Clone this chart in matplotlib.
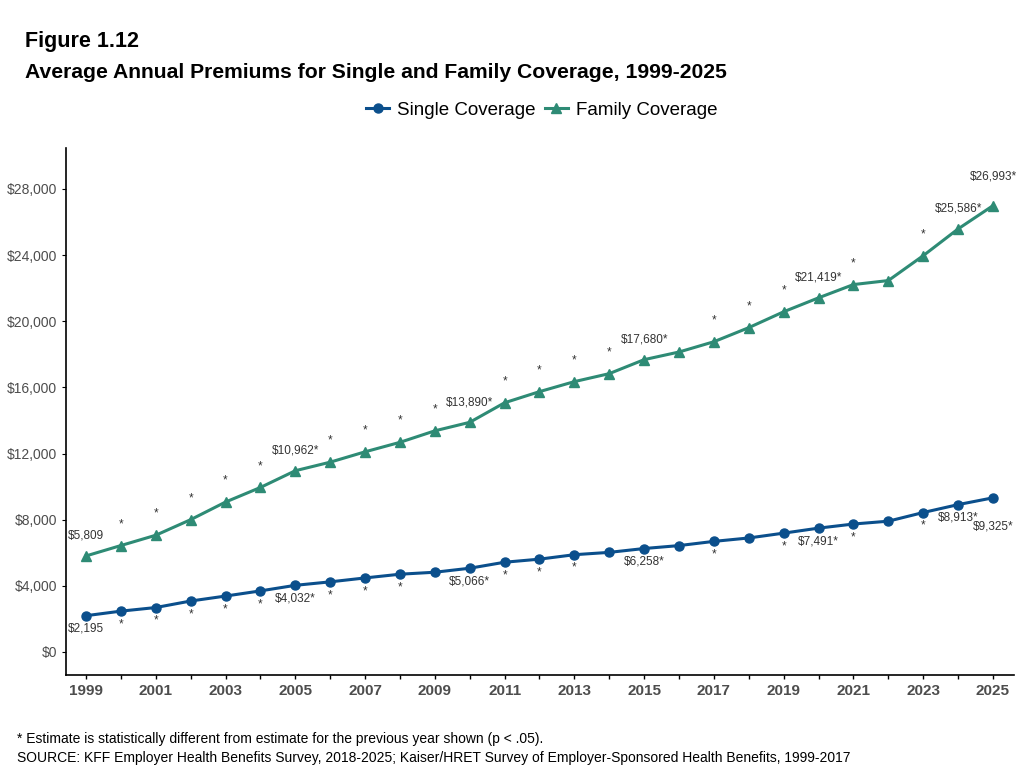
import matplotlib
matplotlib.use('Agg')
import matplotlib.pyplot as plt
from matplotlib.ticker import FuncFormatter, MultipleLocator

plt.rcParams['font.family'] = ['Liberation Sans', 'DejaVu Sans']

years = list(range(1999, 2026))
single = [2195, 2471, 2689, 3083, 3383, 3695, 4032, 4242, 4479, 4704, 4824,
          5066, 5429, 5615, 5884, 6025, 6258, 6435, 6690, 6896, 7188, 7491,
          7739, 7911, 8435, 8913, 9325]
family = [5809, 6438, 7061, 8003, 9068, 9950, 10962, 11480, 12106, 12680, 13375,
          13890, 15073, 15745, 16351, 16834, 17680, 18142, 18764, 19616, 20576, 21419,
          22221, 22463, 23968, 25586, 26993]

# years that get a value label, and years that get only an asterisk
single_labels = {1999: '$2,195', 2005: '$4,032*', 2010: '$5,066*', 2015: '$6,258*',
                 2020: '$7,491*', 2024: '$8,913*', 2025: '$9,325*'}
family_labels = {1999: '$5,809', 2005: '$10,962*', 2010: '$13,890*', 2015: '$17,680*',
                 2020: '$21,419*', 2024: '$25,586*', 2025: '$26,993*'}
single_stars = [2000, 2001, 2002, 2003, 2004, 2006, 2007, 2008, 2011, 2012, 2013,
                2017, 2019, 2021, 2023]
family_stars = [2000, 2001, 2002, 2003, 2004, 2006, 2007, 2008, 2009, 2011, 2012,
                2013, 2014, 2017, 2018, 2019, 2021, 2023]

BLUE = '#0B4F8C'
TEAL = '#2E8B75'
GREY = '#4D4D4D'

fig = plt.figure(figsize=(10.23, 7.70), dpi=100)
ax = fig.add_axes([66/1023, 1 - 675/770, (1014 - 66)/1023, (675 - 148)/770])

ax.plot(years, single, color=BLUE, lw=2.2, marker='o', ms=6.5, label='Single Coverage')
ax.plot(years, family, color=TEAL, lw=2.2, marker='^', ms=7, label='Family Coverage')

lab_kw = dict(textcoords='offset points', ha='center', va='center', fontsize=8.5, color='#333333')
for yr, txt in single_labels.items():
    v = single[years.index(yr)]
    dy = -21 if yr == 2025 else -9.5
    ax.annotate(txt, (yr, v), xytext=(0, dy), **lab_kw)
for yr, txt in family_labels.items():
    v = family[years.index(yr)]
    dy = 21 if yr == 2025 else 14.5
    ax.annotate(txt, (yr, v), xytext=(0, dy), **lab_kw)
for yr in single_stars:
    ax.annotate('*', (yr, single[years.index(yr)]), xytext=(0, -9.5), **lab_kw)
for yr in family_stars:
    ax.annotate('*', (yr, family[years.index(yr)]), xytext=(0, 15.5), **lab_kw)

ax.set_xlim(1998.427, 2025.602)
ax.set_ylim(-1391, 30479)
ax.set_xticks(range(1999, 2026, 2))
ax.xaxis.set_minor_locator(MultipleLocator(1))
ax.set_yticks(range(0, 28001, 4000))
ax.yaxis.set_major_formatter(FuncFormatter(lambda v, p: '${:,.0f}'.format(v)))

for s in ['top', 'right']:
    ax.spines[s].set_visible(False)
for s in ['left', 'bottom']:
    ax.spines[s].set_linewidth(1.2)
ax.tick_params(axis='y', labelsize=10, colors='black', labelcolor=GREY, length=3)
ax.tick_params(axis='x', which='both', length=3, width=1, labelsize=11, labelcolor=GREY)
for t in ax.get_xticklabels():
    t.set_fontweight('bold')

fig.text(25/1023, 1 - 42/770, 'Figure 1.12', fontsize=15.5, fontweight='bold', va='center')
fig.text(25/1023, 1 - 73/770, 'Average Annual Premiums for Single and Family Coverage, 1999-2025',
         fontsize=15.2, fontweight='bold', va='center')

fig.legend(loc='center', bbox_to_anchor=(542/1023, 1 - 110/770), ncol=2, frameon=False,
           fontsize=13.5, handlelength=1.2, handletextpad=0.45, columnspacing=0.5)

fig.text(17/1023, 1 - 739/770,
         '* Estimate is statistically different from estimate for the previous year shown (p < .05).',
         fontsize=10, va='center')
fig.text(17/1023, 1 - 758/770,
         'SOURCE: KFF Employer Health Benefits Survey, 2018-2025; Kaiser/HRET Survey of Employer-Sponsored Health Benefits, 1999-2017',
         fontsize=10, va='center')

fig.savefig('out.png', dpi=100)
